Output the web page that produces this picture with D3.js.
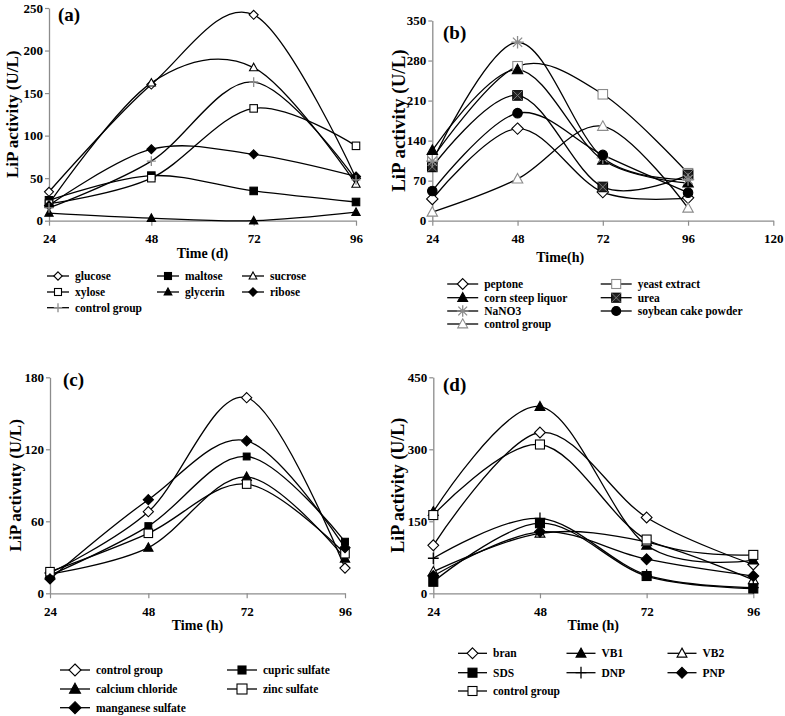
<!DOCTYPE html>
<html><head><meta charset="utf-8">
<script src="https://cdn.jsdelivr.net/npm/d3@7"></script>
<style>
body{margin:0;background:#fff}
text{font-family:"Liberation Serif","Times New Roman",serif;font-weight:bold;fill:#000}
</style>
</head><body>
<svg id="chart" width="785" height="716"></svg>
<script>
// ---------- DATA ----------
const timeA = [24, 48, 72, 96];
const namesA = ["glucose", "maltose", "sucrose", "xylose", "glycerin", "ribose", "control group"];
const valuesA = [
  [34, 160, 242, 50],
  [24, 53, 35, 22],
  [20, 162, 180, 43],
  [20, 50, 132, 88],
  [9, 3, 0, 10],
  [18, 84, 78, 52],
  [15, 70, 163, 48]
];
const yTicksA = [0, 50, 100, 150, 200, 250];
const xTicksA = [24, 48, 72, 96];

const timeB = [24, 48, 72, 96];
const namesB = ["peptone", "yeast extract", "corn steep liquor", "urea", "NaNO3", "soybean cake powder", "control group"];
const valuesB = [
  [38, 161, 50, 40],
  [109, 270, 221, 83],
  [123, 264, 106, 66],
  [94, 219, 59, 80],
  [104, 312, 110, 72],
  [52, 188, 115, 49],
  [15, 73, 165, 22]
];
const yTicksB = [0, 70, 140, 210, 280, 350];
const xTicksB = [24, 48, 72, 96, 120];

const timeC = [24, 48, 72, 96];
const namesC = ["control group", "cupric sulfate", "calcium chloride", "zinc sulfate", "manganese sulfate"];
const valuesC = [
  [17, 68, 163, 21],
  [15, 56, 114, 43],
  [16, 38, 97, 29],
  [18, 50, 91, 33],
  [12, 78, 127, 38]
];
const yTicksC = [0, 60, 120, 180];
const xTicksC = [24, 48, 72, 96];

const timeD = [24, 48, 72, 96];
const namesD = ["bran", "VB1", "VB2", "SDS", "DNP", "PNP", "control group"];
const valuesD = [
  [100, 335, 158, 60],
  [170, 389, 100, 69],
  [45, 125, 107, 28],
  [24, 146, 36, 10],
  [73, 156, 38, 12],
  [36, 128, 71, 36],
  [163, 310, 112, 80]
];
const yTicksD = [0, 150, 300, 450];
const xTicksD = [24, 48, 72, 96];

// ---------- STYLES / LAYOUT ----------
const GREY = "#8c8c8c";
const markersA = [
  {t: "diamond", f: "#fff", s: "#000"}, {t: "square", f: "#000", s: "#000"}, {t: "triangle", f: "#fff", s: "#000"},
  {t: "square", f: "#fff", s: "#000"}, {t: "triangle", f: "#000", s: "#000"}, {t: "diamond", f: "#000", s: "#000"},
  {t: "plus", f: "none", s: GREY}
];
const markersB = [
  {t: "diamond", f: "#fff", s: "#000"}, {t: "square", f: "#fff", s: GREY}, {t: "triangle", f: "#000", s: "#000"},
  {t: "xsquare", f: "#222", s: "#000"}, {t: "asterisk", f: "none", s: GREY}, {t: "circle", f: "#000", s: "#000"},
  {t: "triangle", f: "#fff", s: GREY}
];
const markersC = [
  {t: "diamond", f: "#fff", s: "#000"}, {t: "square", f: "#000", s: "#000", k: 0.8}, {t: "triangle", f: "#000", s: "#000"},
  {t: "square", f: "#fff", s: "#000"}, {t: "diamond", f: "#000", s: "#000"}
];
const markersD = [
  {t: "diamond", f: "#fff", s: "#000"}, {t: "triangle", f: "#000", s: "#000"}, {t: "triangle", f: "#fff", s: "#000"},
  {t: "square", f: "#000", s: "#000"}, {t: "plus", f: "none", s: "#000"}, {t: "diamond", f: "#000", s: "#000"},
  {t: "square", f: "#fff", s: "#000"}
];

const panels = [
  {letter: "(a)", time: timeA, names: namesA, values: valuesA, yTicks: yTicksA, xTicks: xTicksA, mk: markersA,
   xr: [49, 356], yr: [220.7, 8], xd: [24, 96], yd: [0, 250], msize: 7.5,
   ylab: "LiP activity (U/L)", ylx: 12, yls: 17, xlab: "Time (d)", xly: 258,
   lx: 58, ly: 21, legCols: [58, 168, 253], legRows: [276, 292, 307.7], legW: 22, legM: 7},
  {letter: "(b)", time: timeB, names: namesB, values: valuesB, yTicks: yTicksB, xTicks: xTicksB, mk: markersB,
   xr: [432.3, 773.3], yr: [220.7, 20.5], xd: [24, 120], yd: [0, 350], msize: 9.5,
   ylab: "LiP activity (U/L)", ylx: 398, yls: 19, xlab: "Time(h)", xly: 262,
   lx: 443, ly: 39, legCols: [462.7, 616.2], legRows: [284, 297.7, 311, 324], legW: 31, legM: 9},
  {letter: "(c)", time: timeC, names: namesC, values: valuesC, yTicks: yTicksC, xTicks: xTicksC, mk: markersC,
   xr: [50, 345], yr: [593.3, 377.3], xd: [24, 96], yd: [0, 180], msize: 8.5,
   ylab: "LiP activuty (U/L)", ylx: 15, yls: 17, xlab: "Time (h)", xly: 630,
   lx: 63, ly: 386, legCols: [75, 242], legRows: [670, 689, 707.7], legW: 30, legM: 10},
  {letter: "(d)", time: timeD, names: namesD, values: valuesD, yTicks: yTicksD, xTicks: xTicksD, mk: markersD,
   xr: [433.3, 753.3], yr: [593.3, 377.3], xd: [24, 96], yd: [0, 450], msize: 9,
   ylab: "LiP activity (U/L)", ylx: 398, yls: 18, xlab: "Time (h)", xly: 630,
   lx: 443, ly: 391, legCols: [472.5, 581, 682], legRows: [653.3, 672.7, 691], legW: 29, legM: 9}
];

const svg = d3.select("#chart");
svg.append("rect").attr("width", 785).attr("height", 716).attr("fill", "#fff");

function drawMarker(g, m, size) {
  const h = size / 2 * (m.k || 1);
  const sw = 1.1;
  switch (m.t) {
    case "diamond":
      g.append("path").attr("d", `M0,${-h * 1.2}L${h * 1.2},0L0,${h * 1.2}L${-h * 1.2},0Z`)
        .attr("fill", m.f).attr("stroke", m.s).attr("stroke-width", sw);
      break;
    case "square":
      g.append("rect").attr("x", -h).attr("y", -h).attr("width", 2 * h).attr("height", 2 * h)
        .attr("fill", m.f).attr("stroke", m.s).attr("stroke-width", sw);
      break;
    case "xsquare":
      g.append("rect").attr("x", -h).attr("y", -h).attr("width", 2 * h).attr("height", 2 * h)
        .attr("fill", m.f).attr("stroke", m.s).attr("stroke-width", sw);
      g.append("path").attr("d", `M${-h},${-h}L${h},${h}M${h},${-h}L${-h},${h}`)
        .attr("stroke", "#777").attr("stroke-width", 1);
      break;
    case "triangle":
      g.append("path").attr("d", `M0,${-h * 1.15}L${h * 1.1},${h * 0.85}L${-h * 1.1},${h * 0.85}Z`)
        .attr("fill", m.f).attr("stroke", m.s).attr("stroke-width", sw);
      break;
    case "circle":
      g.append("circle").attr("r", h).attr("fill", m.f).attr("stroke", m.s).attr("stroke-width", sw);
      break;
    case "plus":
      g.append("path").attr("d", `M${-h * 1.2},0L${h * 1.2},0M0,${-h * 1.3}L0,${h * 1.3}`)
        .attr("stroke", m.s).attr("stroke-width", 1.3).attr("fill", "none");
      break;
    case "asterisk": {
      const a = h * 1.3;
      g.append("path").attr("d", `M${-a},0L${a},0M0,${-a}L0,${a}M${-a * 0.75},${-a * 0.75}L${a * 0.75},${a * 0.75}M${a * 0.75},${-a * 0.75}L${-a * 0.75},${a * 0.75}`)
        .attr("stroke", m.s).attr("stroke-width", 1.3).attr("fill", "none");
      break;
    }
  }
}

panels.forEach(p => {
  const x = d3.scaleLinear().domain(p.xd).range(p.xr);
  const y = d3.scaleLinear().domain(p.yd).range(p.yr);
  const g = svg.append("g");

  // axes
  const ya = g.append("g").attr("transform", `translate(${p.xr[0]},0)`)
    .call(d3.axisLeft(y).tickValues(p.yTicks).tickSize(4).tickSizeOuter(0).tickPadding(2).tickFormat(d3.format("d")));
  const xa = g.append("g").attr("transform", `translate(0,${p.yr[0]})`)
    .call(d3.axisBottom(x).tickValues(p.xTicks).tickSize(5).tickSizeOuter(0).tickPadding(8).tickFormat(d3.format("d")));
  [ya, xa].forEach(a => {
    a.select(".domain").attr("stroke", GREY).attr("stroke-width", 1.3);
    a.selectAll(".tick line").attr("stroke", GREY).attr("stroke-width", 1.2);
    a.selectAll(".tick text").attr("font-size", 13).attr("font-family", "Liberation Serif, serif").attr("font-weight", "bold").attr("fill", "#000");
  });

  // titles
  g.append("text").attr("transform", `translate(${p.ylx},${(p.yr[0] + p.yr[1]) / 2}) rotate(-90)`)
    .attr("text-anchor", "middle").attr("dy", "0.35em").attr("font-size", p.yls).text(p.ylab);
  g.append("text").attr("x", (p.xr[0] + x(96)) / 2 + (p.letter === "(b)" ? 0 : 0)).attr("y", p.xly)
    .attr("text-anchor", "middle").attr("font-size", 14).text(p.xlab);
  g.append("text").attr("x", p.lx).attr("y", p.ly).attr("font-size", 19).text(p.letter);

  // lines
  const line = d3.line().x((d, i) => x(p.time[i])).y(d => y(d)).curve(d3.curveCardinal.tension(0));
  p.values.forEach(vals => {
    g.append("path").attr("d", line(vals)).attr("fill", "none").attr("stroke", "#000").attr("stroke-width", 1.3);
  });
  // markers
  p.values.forEach((vals, si) => {
    vals.forEach((v, i) => {
      const mg = g.append("g").attr("transform", `translate(${x(p.time[i])},${y(v)})`);
      drawMarker(mg, p.mk[si], p.msize);
    });
  });

  // legend
  const nc = p.legCols.length;
  p.names.forEach((name, i) => {
    const cx = p.legCols[i % nc], cy = p.legRows[Math.floor(i / nc)];
    const lg = g.append("g").attr("transform", `translate(${cx},${cy})`);
    lg.append("line").attr("x1", -p.legW / 2).attr("x2", p.legW / 2).attr("stroke", "#000").attr("stroke-width", 1.3);
    drawMarker(lg, p.mk[i], p.legM);
    lg.append("text").attr("x", p.legW / 2 + 6).attr("y", 4).attr("font-size", 11.5).text(name);
  });
});
</script>
</body></html>
